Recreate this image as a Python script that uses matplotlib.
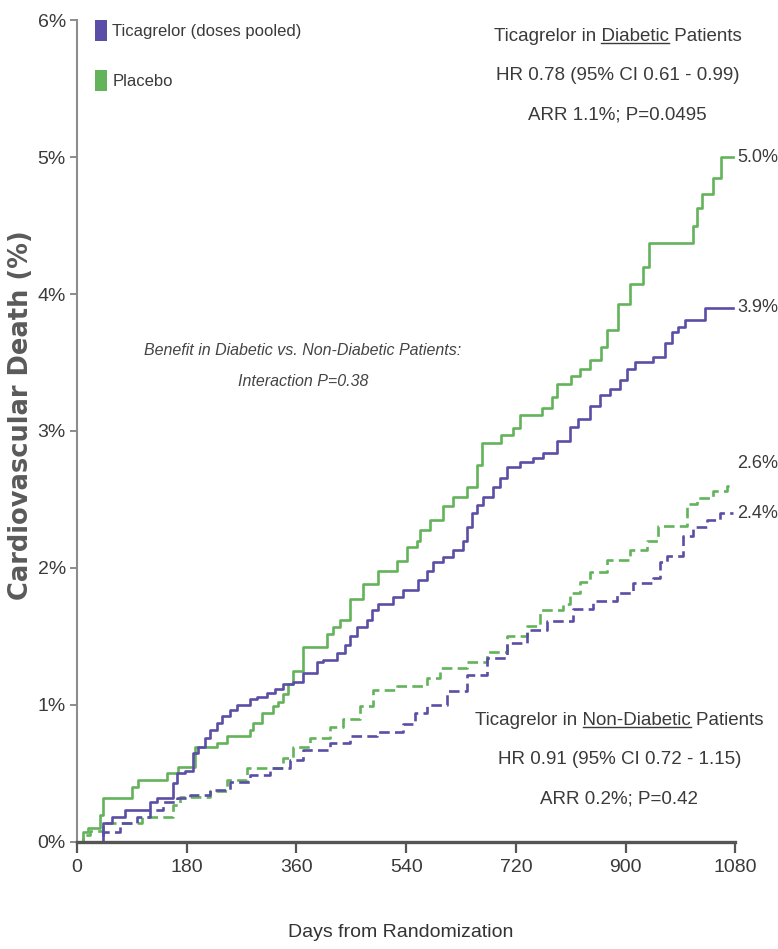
import matplotlib
matplotlib.use('Agg')
import matplotlib.pyplot as plt
from matplotlib.patches import Patch
from matplotlib.lines import Line2D

plt.rcParams['font.family'] = ['Liberation Sans', 'DejaVu Sans']

PURPLE = '#5a4ea6'
GREEN = '#62b35a'
TXT = '#3a3a3a'

x_ticks = [0, 180, 360, 540, 720, 900, 1080]
y_ticks = [0, 1, 2, 3, 4, 5, 6]
y_tick_labels = ['0%', '1%', '2%', '3%', '4%', '5%', '6%']

# diabetic patients, placebo (Kaplan-Meier steps: day, cumulative %)
dm_pbo_days = [0, 10, 18, 38, 43, 90, 100, 148, 166, 194, 230, 246, 284, 289, 304,
               322, 330, 338, 346, 355, 371, 410, 420, 432, 448, 470, 494, 525, 542,
               558, 563, 580, 601, 617, 640, 657, 665, 695, 716, 727, 763, 780, 788,
               810, 826, 842, 859, 870, 887, 908, 929, 938, 1010, 1018, 1025, 1044,
               1056, 1076]
dm_pbo_pct = [0, 0.07, 0.10, 0.20, 0.32, 0.40, 0.45, 0.50, 0.55, 0.69, 0.72, 0.77,
              0.82, 0.87, 0.94, 0.99, 1.02, 1.08, 1.15, 1.25, 1.42, 1.52, 1.57, 1.62,
              1.77, 1.88, 1.98, 2.05, 2.15, 2.20, 2.28, 2.35, 2.45, 2.52, 2.59, 2.75,
              2.91, 2.97, 3.02, 3.12, 3.17, 3.25, 3.34, 3.40, 3.45, 3.52, 3.61, 3.74,
              3.93, 4.07, 4.20, 4.37, 4.50, 4.63, 4.73, 4.85, 5.0, 5.0]

# diabetic patients, ticagrelor
dm_tica_days = [0, 43, 57, 79, 120, 131, 158, 164, 177, 190, 199, 210, 218, 230, 238,
                251, 263, 284, 295, 312, 325, 338, 355, 371, 394, 404, 427, 440, 448,
                460, 476, 484, 494, 519, 535, 560, 574, 584, 601, 617, 634, 640, 648,
                656, 666, 683, 694, 706, 727, 748, 765, 788, 809, 822, 842, 858, 875,
                891, 903, 916, 945, 965, 977, 986, 998, 1031, 1076]
dm_tica_pct = [0, 0.14, 0.18, 0.23, 0.29, 0.32, 0.43, 0.50, 0.52, 0.65, 0.69, 0.76,
               0.82, 0.87, 0.92, 0.96, 1.00, 1.04, 1.06, 1.09, 1.12, 1.15, 1.17, 1.23,
               1.31, 1.33, 1.38, 1.44, 1.50, 1.57, 1.62, 1.69, 1.74, 1.79, 1.84, 1.91,
               1.98, 2.04, 2.08, 2.13, 2.20, 2.30, 2.40, 2.46, 2.52, 2.59, 2.66, 2.74,
               2.77, 2.80, 2.84, 2.93, 3.03, 3.09, 3.18, 3.26, 3.31, 3.37, 3.45, 3.50,
               3.54, 3.64, 3.72, 3.76, 3.81, 3.90, 3.90]

# non-diabetic patients, placebo
nd_pbo_days = [0, 10, 21, 43, 107, 158, 169, 218, 246, 279, 338, 355, 382, 415, 437,
               464, 486, 525, 574, 596, 640, 673, 706, 739, 760, 798, 809, 826, 842,
               870, 908, 936, 954, 1001, 1018, 1044, 1067, 1076]
nd_pbo_pct = [0, 0.05, 0.08, 0.14, 0.18, 0.27, 0.33, 0.37, 0.45, 0.54, 0.61, 0.69,
              0.76, 0.84, 0.90, 0.99, 1.11, 1.14, 1.20, 1.27, 1.31, 1.39, 1.50, 1.58,
              1.69, 1.74, 1.82, 1.90, 1.97, 2.06, 2.13, 2.20, 2.31, 2.47, 2.51, 2.56,
              2.60, 2.60]

# non-diabetic patients, ticagrelor
nd_tica_days = [0, 43, 71, 98, 120, 141, 164, 185, 218, 251, 284, 317, 350, 371, 415,
                448, 492, 535, 555, 574, 607, 640, 673, 706, 739, 771, 814, 847, 886,
                913, 945, 957, 968, 995, 1011, 1034, 1055, 1076]
nd_tica_pct = [0, 0.07, 0.14, 0.18, 0.23, 0.29, 0.32, 0.34, 0.38, 0.44, 0.49, 0.54,
               0.60, 0.67, 0.72, 0.77, 0.80, 0.86, 0.94, 1.00, 1.10, 1.22, 1.34, 1.45,
               1.55, 1.61, 1.70, 1.76, 1.82, 1.89, 1.93, 2.04, 2.09, 2.23, 2.30, 2.35,
               2.40, 2.40]

fig = plt.figure(figsize=(7.78, 9.49), dpi=100)
ax = fig.add_axes([0.099, 0.1128, 0.846, 0.8661])

lw = 1.9
ax.step(nd_pbo_days, nd_pbo_pct, where='post', color=GREEN, lw=lw, dashes=(4, 2))
ax.step(nd_tica_days, nd_tica_pct, where='post', color=PURPLE, lw=lw, dashes=(4, 2))
ax.step(dm_pbo_days, dm_pbo_pct, where='post', color=GREEN, lw=lw)
ax.step(dm_tica_days, dm_tica_pct, where='post', color=PURPLE, lw=lw)

# end-of-curve values
for pct, dy in [(dm_pbo_pct, 0), (dm_tica_pct, 0), (nd_pbo_pct, 0.16), (nd_tica_pct, 0)]:
    ax.text(1083, pct[-1] + dy, f'{pct[-1]:.1f}%', ha='left', va='center',
            fontsize=13, color=TXT, clip_on=False)

ax.set_xlim(0, 1080)
ax.set_ylim(0, 6)
ax.set_xticks(x_ticks)
ax.set_yticks(y_ticks)
ax.set_yticklabels(y_tick_labels)
for s in ['top', 'right']:
    ax.spines[s].set_visible(False)
ax.spines['left'].set_color('#8c8c8c')
ax.spines['left'].set_linewidth(1.5)
ax.spines['bottom'].set_color('#555555')
ax.spines['bottom'].set_linewidth(2.4)
ax.tick_params(axis='y', length=5, width=1.4, color='#8c8c8c', pad=3,
               labelsize=14, labelcolor=TXT)
ax.tick_params(axis='x', length=8, width=1.6, color='#555555', pad=4,
               labelsize=14, labelcolor=TXT)

ax.set_xlabel('Days from Randomization', fontsize=14, color='#333333', va='center')
ax.xaxis.set_label_coords(0.492, -0.11)
ax.set_ylabel('Cardiovascular Death (%)', fontsize=18.5, fontweight='bold',
              family='DejaVu Sans', color='#5a5a5a', va='center')
ax.yaxis.set_label_coords(-0.085, 0.519)

handles = [Patch(facecolor=PURPLE, edgecolor='none'),
           Patch(facecolor=GREEN, edgecolor='none')]
ax.legend(handles, ['Ticagrelor (doses pooled)', 'Placebo'], loc='upper left',
          bbox_to_anchor=(0.027, 1.0), frameon=False, fontsize=12,
          handlelength=0.75, handleheight=1.55, handletextpad=0.3,
          labelspacing=1.75, borderaxespad=0, borderpad=0, labelcolor=TXT)

ax.text(0.3435, 0.598, 'Benefit in Diabetic vs. Non-Diabetic Patients:',
        transform=ax.transAxes, ha='center', va='center', fontsize=11.5,
        style='italic', color='#444444')
ax.text(0.3435, 0.560, 'Interaction P=0.38', transform=ax.transAxes,
        ha='center', va='center', fontsize=11.5, style='italic', color='#444444')

fig.canvas.draw()
renderer = fig.canvas.get_renderer()


def underlined(x, y, before, word, after, size):
    t = ax.text(x, y, before + word + after, transform=ax.transAxes, ha='center',
                va='center', fontsize=size, color=TXT)
    bb = t.get_window_extent(renderer)
    probe = ax.text(0, 0, before + word, fontsize=size, transform=None)
    w_pre = probe.get_window_extent(renderer).width
    probe.set_text(word)
    w_word = probe.get_window_extent(renderer).width
    _, _, desc = renderer.get_text_width_height_descent('lp', t.get_fontproperties(),
                                                        ismath=False)
    probe.remove()
    x1 = bb.x0 + w_pre
    yl = bb.y0 + desc - 2
    fig.add_artist(Line2D([x1 - w_word, x1], [yl, yl], transform=None,
                          color=TXT, lw=1.0))


BLOCK = 13.5
underlined(0.821, 0.9805, 'Ticagrelor in ', 'Diabetic', ' Patients', BLOCK)
ax.text(0.821, 0.9325, 'HR 0.78 (95% CI 0.61 - 0.99)', transform=ax.transAxes,
        ha='center', va='center', fontsize=BLOCK, color=TXT)
ax.text(0.821, 0.8845, 'ARR 1.1%; P=0.0495', transform=ax.transAxes,
        ha='center', va='center', fontsize=BLOCK, color=TXT)

underlined(0.824, 0.148, 'Ticagrelor in ', 'Non-Diabetic', ' Patients', BLOCK)
ax.text(0.824, 0.1, 'HR 0.91 (95% CI 0.72 - 1.15)', transform=ax.transAxes,
        ha='center', va='center', fontsize=BLOCK, color=TXT)
ax.text(0.824, 0.052, 'ARR 0.2%; P=0.42', transform=ax.transAxes,
        ha='center', va='center', fontsize=BLOCK, color=TXT)

fig.savefig('out.png', dpi=100)
